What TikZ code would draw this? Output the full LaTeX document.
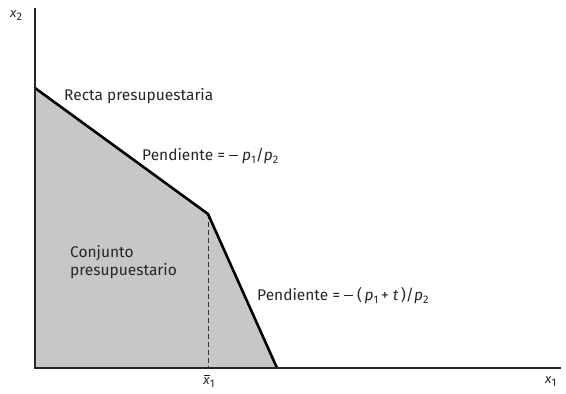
\documentclass[tikz,border=0pt]{standalone}
\usepackage{fontspec}
\setmainfont{Fira Sans}[Scale=1]
\newcommand{\sbs}[1]{\raisebox{-3pt}{\fontsize{11}{12}\selectfont #1}}
\newcommand{\mneg}{\hspace{4pt}\rule[4.5pt]{9pt}{1pt}\hspace{4pt}}
\begin{document}
\begin{tikzpicture}[x=1pt,y=-1pt,
  axis/.style={line width=1.8pt,black!85},
  budget/.style={line width=2.6pt,black},
  lbl/.style={inner sep=0pt,anchor=west,font=\fontsize{15.5}{18.5}\selectfont,text=black!85}]
\useasboundingbox (0,0) rectangle (566,394);
\coordinate (O) at (35,368);
\coordinate (Ytop) at (35,8);
\coordinate (Xend) at (561,368);
\coordinate (A) at (35,88);
\coordinate (K) at (208,214);
\coordinate (B) at (277,368);
\coordinate (Kb) at (208,368);
\fill[black!22] (O) -- (A) -- (K) -- (B) -- cycle;
\draw[line width=0.9pt,dash pattern=on 5pt off 3pt,black!80] (K) -- (Kb);
\draw[budget,line join=miter] (A) -- (K) -- (B);
\draw[axis] (Ytop) -- (O) -- (Xend);
\node[lbl,font=\fontsize{13}{15}\selectfont] (x2) at (10,16) {\textit{x}\sbs{2}};
\node[lbl,font=\fontsize{13}{15}\selectfont] (x1) at (545,382) {\textit{x}\sbs{1}};
\node[lbl,anchor=center,font=\fontsize{13}{15}\selectfont] (xbar) at (209,381) {\makebox[0pt][l]{\hspace{0.5pt}\raisebox{9pt}{\rule{6.5pt}{0.7pt}}}\textit{x}\sbs{1}};
\node[lbl] (recta) at (64,96) {Recta presupuestaria};
\node[lbl] (pend1) at (142,156) {Pendiente =\mneg\textit{p}\sbs{1}/\textit{p}\sbs{2}};
\node[lbl,align=left,anchor=north west] (conj) at (70,245) {Conjunto\\presupuestario};
\node[lbl] (pend2) at (257,296) {Pendiente =\mneg(\,\textit{p}\sbs{1}\,+ \textit{t}\,)/\textit{p}\sbs{2}};
\end{tikzpicture}
\end{document}
